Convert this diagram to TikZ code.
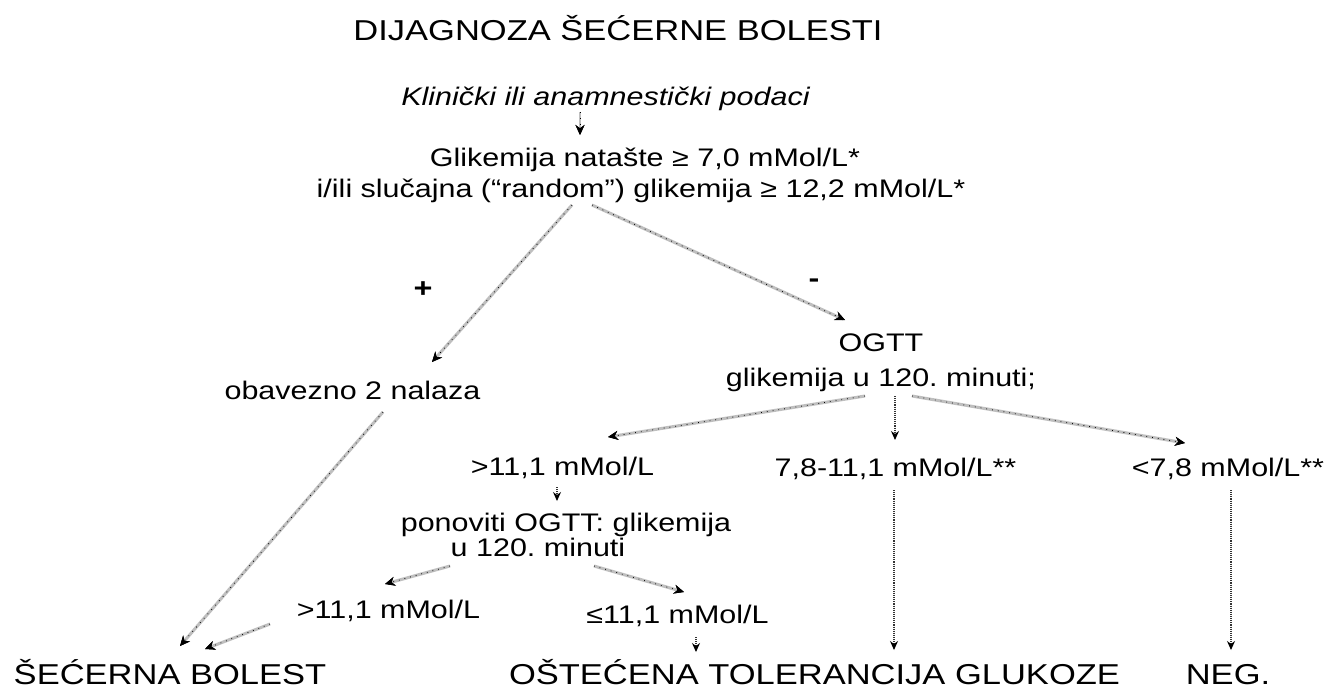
\documentclass[tikz,border=0pt]{standalone}
\usepackage{fontspec}
\setmainfont{Liberation Sans}[FakeStretch=1.2]
\usetikzlibrary{arrows.meta,calc}
\frenchspacing
\tikzset{
  txt/.style={anchor=base, inner sep=0pt, font=\fontsize{25.4}{30}\selectfont},
  bigtxt/.style={anchor=base, inner sep=0pt, font=\fontsize{28.75}{34}\selectfont},
  sign/.style={anchor=center, inner sep=0pt, font=\fontsize{27}{30}\selectfont\bfseries},
  garrow/.style={draw=gray!50, line width=3pt,
    -{Stealth[length=10pt,width=9pt,color=black]},
    postaction={draw=black, line width=0.8pt, dash pattern=on 0.8pt off 5pt}},
  darrow/.style={draw=black!80, line width=1.1pt, densely dotted,
    -{Stealth[length=9pt,width=8pt,color=black]}},
}
\begin{document}
\begin{tikzpicture}[x=1pt,y=-1pt]
\fill[white] (0,0) rectangle (1326,689);
\useasboundingbox (0,0) rectangle (1326,689);

% texts
\node[bigtxt] (title) at (618,40) {DIJAGNOZA ŠEĆERNE BOLESTI};
\node[txt] (klin) at (605.5,105) {\itshape Klinički ili anamnestički podaci};
\node[txt] (glik1) at (645,166) {Glikemija natašte ≥ 7,0 mMol/L*};
\node[txt] (ili) at (641,197) {i/ili slučajna (“random”) glikemija ≥ 12,2 mMol/L*};
\node[sign] (plus) at (423,290) {+};
\node[sign] (minus) at (814,283) {-};
\node[txt] (obav) at (352.5,399) {obavezno 2 nalaza};
\node[txt] (ogtt) at (881,351) {OGTT};
\node[txt] (glik2) at (881,386) {glikemija u 120. minuti;};
\node[txt] (r1) at (562.5,475) {>11,1 mMol/L};
\node[txt] (r78) at (895.5,476) {7,8-11,1 mMol/L**};
\node[txt] (rlt) at (1228,476) {<7,8 mMol/L**};
\node[txt] (pon) at (566,531) {ponoviti OGTT: glikemija};
\node[txt] (pon2) at (538,556) {u 120. minuti};
\node[txt] (r2) at (388.5,618) {>11,1 mMol/L};
\node[txt] (rle) at (677.5,623) {≤11,1 mMol/L};
\node[bigtxt] (secer) at (170,684) {ŠEĆERNA BOLEST};
\node[bigtxt] (ost) at (814.5,684) {OŠTEĆENA TOLERANCIJA GLUKOZE};
\node[bigtxt] (neg) at (1228,684) {NEG.};

% connectors
\draw[garrow, line width=2pt] ($(klin.base)+(-25.5,7)$) -- ($(glik1.base)+(-65,-31)$);
\draw[garrow] ($(ili.base)+(-69,8)$) -- ($(obav.base)+(79.5,-37)$);
\draw[garrow] ($(ili.base)+(-49,8)$) -- ($(ogtt.base)+(-36,-31)$);
\draw[garrow] ($(glik2.base)+(-16,10)$) -- ($(r1.base)+(45.5,-38)$);
\draw[darrow] ($(glik2.base)+(14,10)$) -- ($(r78.base)+(-0.5,-36)$);
\draw[garrow] ($(glik2.base)+(31,10)$) -- ($(rlt.base)+(-43,-33)$);
\draw[garrow] ($(obav.base)+(30.5,13)$) -- ($(secer.base)+(10,-38)$);
\draw[darrow] ($(r1.base)+(-5.5,12)$) -- ($(pon.base)+(-9,-30)$);
\draw[garrow] ($(pon2.base)+(-88,10)$) -- ($(r2.base)+(-3.5,-34)$);
\draw[garrow] ($(pon2.base)+(56,10)$) -- ($(rle.base)+(6.5,-31)$);
\draw[garrow] ($(r2.base)+(-118.5,6)$) -- ($(secer.base)+(35,-35)$);
\draw[darrow] ($(rle.base)+(18.5,14)$) -- ($(ost.base)+(-118.5,-32)$);
\draw[darrow] ($(r78.base)+(-1.5,14)$) -- ($(ost.base)+(79.5,-34)$);
\draw[darrow] ($(rlt.base)+(3,14)$) -- ($(neg.base)+(3,-34)$);
\end{tikzpicture}
\end{document}
